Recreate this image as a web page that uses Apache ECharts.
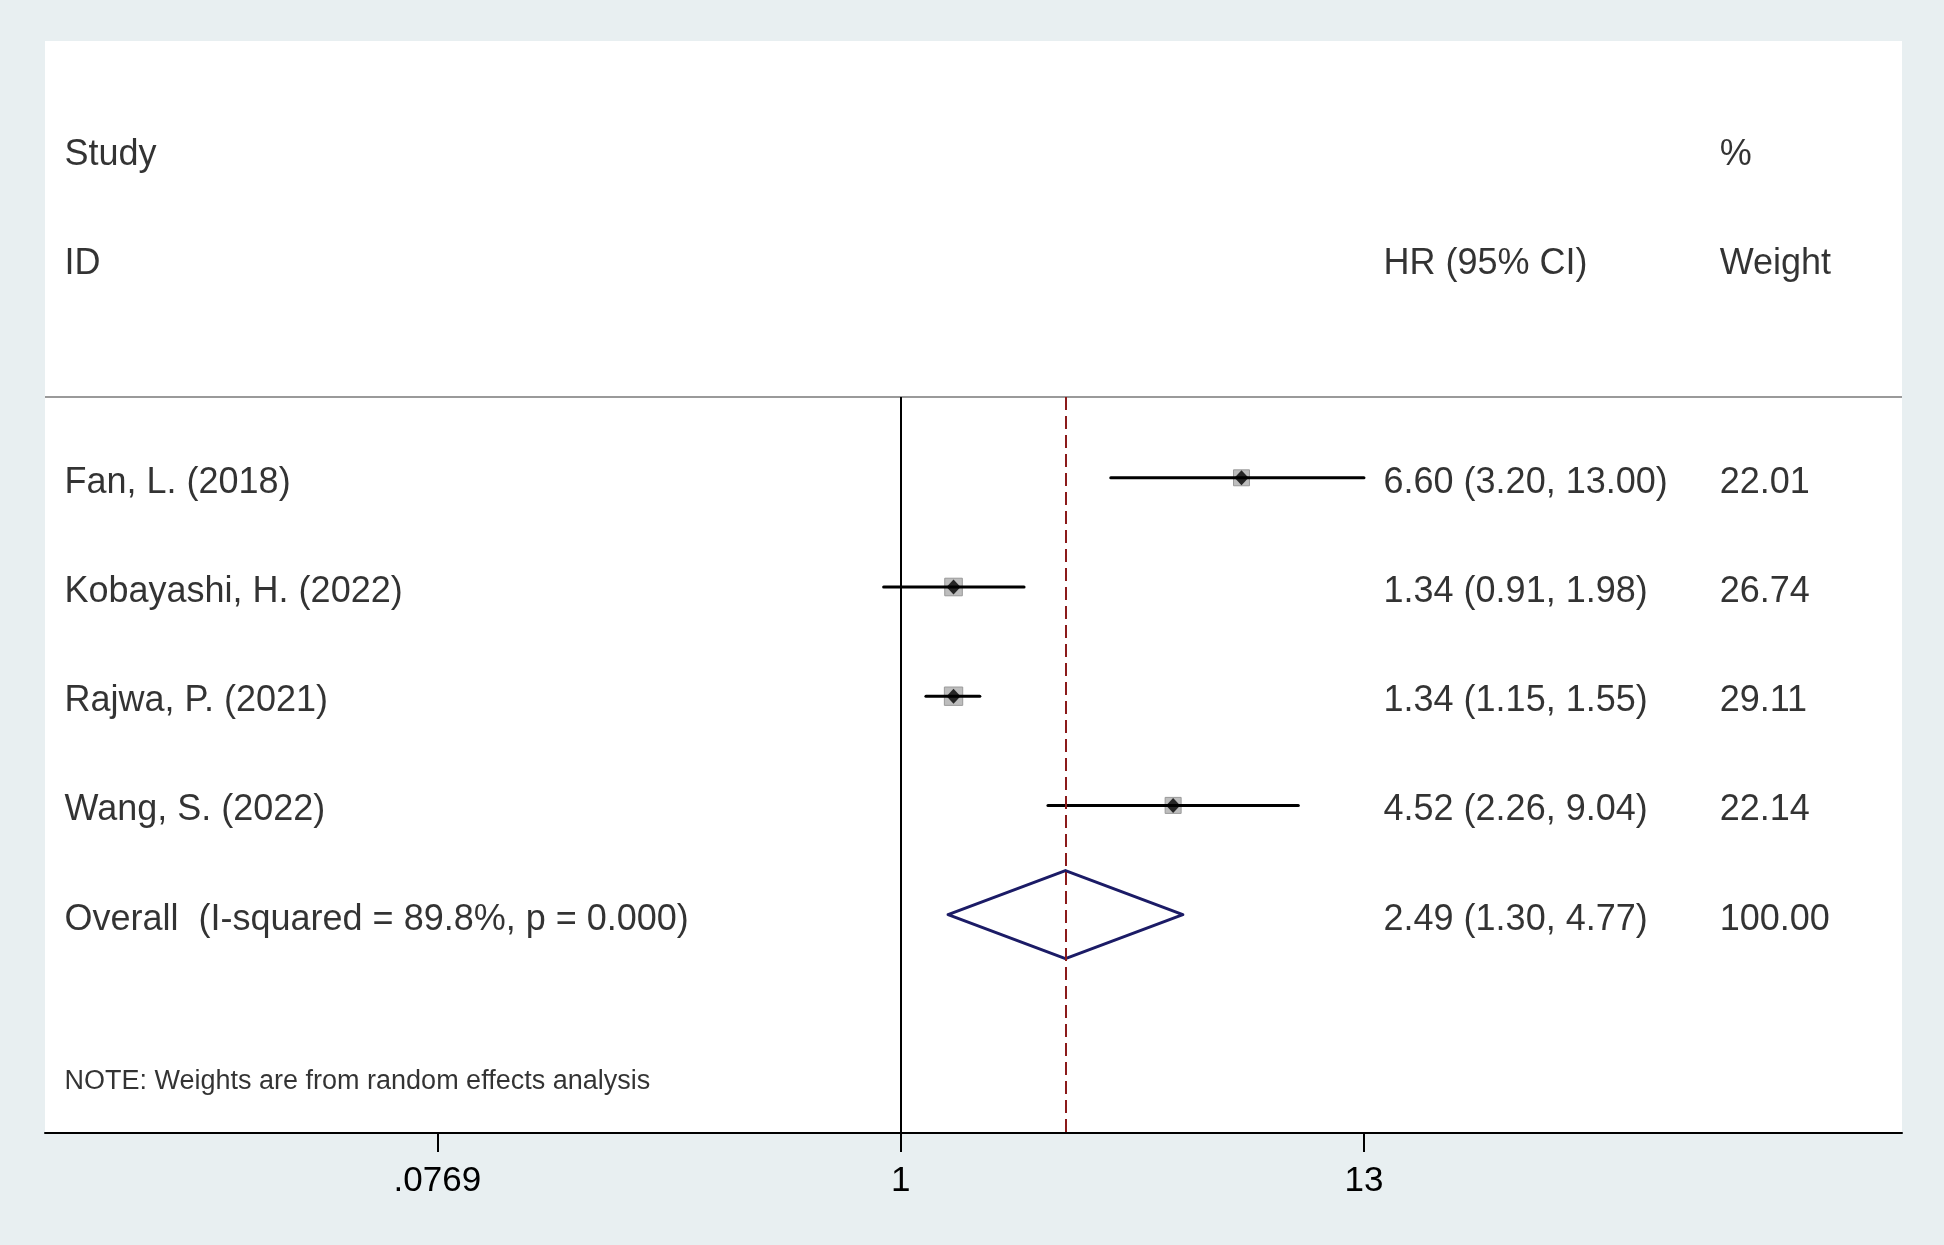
<!DOCTYPE html>
<html><head><meta charset="utf-8">
<script src="https://cdn.jsdelivr.net/npm/echarts@6/dist/echarts.min.js"></script>
<style>html,body{margin:0;padding:0;background:#e8eff1;} #c{width:1944px;height:1245px;}</style>
</head><body><div id="c"></div>
<script>
// ---- data ----
const studies = ['Fan, L. (2018)', 'Kobayashi, H. (2022)', 'Rajwa, P. (2021)', 'Wang, S. (2022)'];
const hr = [6.60, 1.34, 1.34, 4.52];
const lower = [3.20, 0.91, 1.15, 2.26];
const upper = [13.00, 1.98, 1.55, 9.04];
const weights = [22.01, 26.74, 29.11, 22.14];
const overallLabel = 'Overall  (I-squared = 89.8%, p = 0.000)';
const overallHR = 2.49, overallLower = 1.30, overallUpper = 4.77, overallWeight = 100.00;
const tickValues = [0.0769, 1, 13];
const tickLabels = ['.0769', '1', '13'];
const headerLeft = ['Study', 'ID'];
const headerMid = 'HR (95% CI)';
const headerRight = ['%', 'Weight'];
const noteText = 'NOTE: Weights are from random effects analysis';

// ---- helpers ----
const ln = Math.log;
const f2 = v => v.toFixed(2);
const FONT = "'Liberation Sans', Arial, sans-serif";
const HEADER_Y = -0.74;
const COL_STUDY = 0.0105, COL_HR = 0.7208, COL_W = 0.9018;

const textData = [];
function addText(x, y, t, size, dy) {
  textData.push({value: [x, y], name: t, label: {fontSize: size || 36, offset: [0, dy == null ? 5 : dy]}});
}
addText(COL_STUDY, -3, headerLeft[0]);
addText(COL_STUDY, -2, headerLeft[1]);
addText(COL_HR, -2, headerMid);
addText(COL_W, -3, headerRight[0]);
addText(COL_W, -2, headerRight[1]);
studies.forEach((s, i) => {
  addText(COL_STUDY, i, s);
  addText(COL_HR, i, `${f2(hr[i])} (${f2(lower[i])}, ${f2(upper[i])})`);
  addText(COL_W, i, f2(weights[i]));
});
const oRow = studies.length;
addText(COL_STUDY, oRow, overallLabel);
addText(COL_HR, oRow, `${f2(overallHR)} (${f2(overallLower)}, ${f2(overallUpper)})`);
addText(COL_W, oRow, f2(overallWeight));
addText(COL_STUDY, 5.5, noteText, 27, 3);

const chart = echarts.init(document.getElementById('c'));
chart.setOption({
  animation: false,
  backgroundColor: '#e8eff1',
  textStyle: {fontFamily: FONT},
  grid: {left: 45, right: 42, top: 41, bottom: 112, show: true, backgroundColor: '#ffffff', borderWidth: 0},
  xAxis: [{
    type: 'value', min: ln(0.00876), max: ln(255.7),
    axisLine: {show: true, onZero: false, lineStyle: {color: '#000', width: 2}},
    axisTick: {show: true, customValues: tickValues.map(ln), length: 19, lineStyle: {color: '#000', width: 2}},
    axisLabel: {show: true, customValues: tickValues.map(ln), margin: 31, fontSize: 35, color: '#000', fontFamily: FONT,
      formatter: v => {
        let best = 0;
        tickValues.forEach((t, i) => { if (Math.abs(ln(t) - v) < Math.abs(ln(tickValues[best]) - v)) best = i; });
        return tickLabels[best];
      }},
    splitLine: {show: false}
  }, {
    type: 'value', min: 0, max: 1, show: false
  }],
  yAxis: {type: 'value', inverse: true, min: -4, max: 6, show: false},
  series: [
    {
      type: 'custom', xAxisIndex: 0, silent: true, z: 3,
      data: studies.map((s, i) => [ln(lower[i]), ln(upper[i]), ln(hr[i]), i, weights[i]]),
      renderItem(params, api) {
        const y = api.value(3);
        const lo = api.coord([api.value(0), y]);
        const hi = api.coord([api.value(1), y]);
        const c = api.coord([api.value(2), y]);
        const side = 3.4 * Math.sqrt(api.value(4));
        return {type: 'group', children: [
          {type: 'rect', shape: {x: c[0] - side / 2, y: c[1] - side / 2, width: side, height: side},
            style: {fill: '#bdbdbd', stroke: '#9a9a9a', lineWidth: 1}},
          {type: 'line', shape: {x1: lo[0], y1: lo[1], x2: hi[0], y2: hi[1]},
            style: {stroke: '#000', lineWidth: 3, lineCap: 'round'}}
        ]};
      }
    },
    {
      type: 'custom', xAxisIndex: 0, silent: true, z: 4,
      data: [[ln(overallLower), ln(overallHR), ln(overallUpper), oRow]],
      renderItem(params, api) {
        const y = api.value(3);
        const l = api.coord([api.value(0), y]);
        const c = api.coord([api.value(1), y]);
        const r = api.coord([api.value(2), y]);
        const h = api.size([0, 0.403])[1];
        return {type: 'polygon', shape: {points: [[l[0], l[1]], [c[0], c[1] - h], [r[0], r[1]], [c[0], c[1] + h]]},
          style: {fill: 'none', stroke: '#1b1b66', lineWidth: 3, lineJoin: 'round'}};
      }
    },
    {
      type: 'scatter', xAxisIndex: 0, silent: true, z: 5,
      symbol: 'diamond', symbolSize: [14, 15],
      itemStyle: {color: '#000'},
      data: studies.map((s, i) => [ln(hr[i]), i]),
      markLine: {
        silent: true, symbol: 'none', label: {show: false}, animation: false,
        data: [
          {yAxis: HEADER_Y, lineStyle: {color: '#9a9a9a', width: 2, type: 'solid'}},
          [{coord: [0, HEADER_Y], lineStyle: {color: '#000', width: 2, type: 'solid'}}, {coord: [0, 6]}],
          [{coord: [ln(overallHR), HEADER_Y], lineStyle: {color: '#8b1a1a', width: 2, type: [13, 6]}}, {coord: [ln(overallHR), 6]}]
        ]
      }
    },
    {
      type: 'scatter', xAxisIndex: 1, silent: true, z: 6, symbolSize: 0,
      data: textData,
      label: {show: true, position: 'right', distance: 0, align: 'left', verticalAlign: 'middle',
        color: '#000', fontFamily: FONT, formatter: p => p.name}
    }
  ]
});
</script></body></html>
